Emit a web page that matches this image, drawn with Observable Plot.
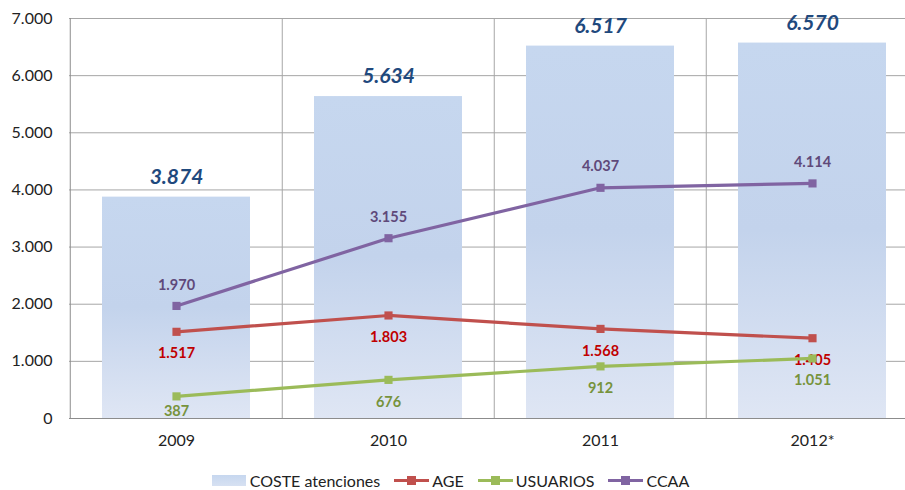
<!DOCTYPE html>
<html><head><meta charset="utf-8">
<script src="https://cdn.jsdelivr.net/npm/d3@7"></script>
<script src="https://cdn.jsdelivr.net/npm/@observablehq/plot@0.6"></script>
<style>
body{margin:0;background:#fff;font-family:Lato,"Open Sans",sans-serif;overflow:hidden}
#legend{display:flex;justify-content:center;align-items:center;height:30px;margin-top:5px;font-size:16px;color:#222;margin-left:-4px}
.item{display:flex;align-items:center;margin:0 7px}
.sw{width:34px;height:11px;margin-right:4px;background:linear-gradient(#c6d7ef,#d7e1f2)}
.ln{position:relative;width:35px;height:12px;margin-right:3px}
.ln i{position:absolute;left:0;right:0;top:4.5px;height:3px}
.ln b{position:absolute;left:13px;top:2px;width:9px;height:9px}
</style></head>
<body><div id="chart"></div><div id="legend"></div>
<script>
const years = ["2009","2010","2011","2012*"];
const coste = [3874,5634,6517,6570];
const age = [1517,1803,1568,1405];
const usuarios = [387,676,912,1051];
const ccaa = [1970,3155,4037,4114];
const yTicks = [0,1000,2000,3000,4000,5000,6000,7000];

const fmt = v => d3.format(",")(v).replace(/,/g,".");
const bars = years.map((y,i)=>({year:y,value:coste[i]}));
const series = [
  {name:"AGE",vals:age,color:"#c0504d",label:"#c00000",dy:22},
  {name:"USUARIOS",vals:usuarios,color:"#9bbb59",label:"#77933c",dy:22},
  {name:"CCAA",vals:ccaa,color:"#8064a2",label:"#5f497a",dy:-21}
];
const pts = series.flatMap(s=>years.map((y,i)=>({series:s.name,year:y,value:s.vals[i],color:s.color,label:s.label,dy:s.dy})));
const bw = (919-69)/4;

const marks = [
  Plot.gridY(yTicks,{stroke:"#a6a6a6",strokeOpacity:1}),
  Plot.ruleX(years.slice(1),{dx:-bw/2,stroke:"#a6a6a6",y1:0,y2:7000}),
  Plot.barY(bars,{x:"year",y:"value",fill:"url(#barGrad)",insetLeft:32,insetRight:32}),
  Plot.ruleX([years[0]],{dx:-bw/2,stroke:"#8c8c8c",y1:0,y2:7000}),
  Plot.ruleY([0],{stroke:"#8c8c8c"}),
  Plot.text(bars,{x:"year",y:"value",text:d=>fmt(d.value),dy:-20,fill:"#1f497d",fontSize:21,fontWeight:"bold",fontStyle:"italic"}),
];
for (const s of series){
  const d = pts.filter(p=>p.series===s.name);
  marks.push(Plot.line(d,{x:"year",y:"value",stroke:s.color,strokeWidth:3.2}));
  marks.push(Plot.dot(d,{x:"year",y:"value",symbol:"square",r:4.6,fill:s.color,stroke:"none"}));
  const dn = s.name==="USUARIOS" ? d.filter(p=>p.year!=="2009") : d;
  marks.push(Plot.text(dn,{x:"year",y:"value",text:p=>fmt(p.value),dy:s.dy,fill:s.label,fontSize:14.5,fontWeight:"bold"}));
  if (s.name==="USUARIOS") marks.push(Plot.text(d.filter(p=>p.year==="2009"),{x:"year",y:"value",text:p=>fmt(p.value),dy:15,fill:s.label,fontSize:14.5,fontWeight:"bold"}));
}
marks.push(Plot.axisY(yTicks,{tickSize:0,tickPadding:17,tickFormat:fmt,fontSize:16,fill:"#222"}));
marks.push(Plot.axisX({tickSize:0,tickPadding:16,fontSize:16,fill:"#222"}));

const plot = Plot.plot({
  width:905,height:460,marginTop:18,marginBottom:42,marginLeft:69,marginRight:0,
  style:{fontFamily:"Lato, 'Open Sans', sans-serif",background:"#fff"},
  x:{type:"band",domain:years,range:[69,919],padding:0,label:null},
  y:{domain:[0,7000],label:null},
  marks
});
const svg = d3.select(plot);
const defs = svg.insert("defs",":first-child");
const g = defs.append("linearGradient").attr("id","barGrad").attr("x1",0).attr("y1",0).attr("x2",0).attr("y2",1);
g.append("stop").attr("offset","0%").attr("stop-color","#c6d7ef");
g.append("stop").attr("offset","50%").attr("stop-color","#c3d3ec");
g.append("stop").attr("offset","100%").attr("stop-color","#dfe6f4");
document.getElementById("chart").appendChild(plot);

const leg = document.getElementById("legend");
leg.innerHTML = `<div class="item"><div class="sw"></div>COSTE atenciones</div>` +
  series.map(s=>`<div class="item"><div class="ln"><i style="background:${s.color}"></i><b style="background:${s.color}"></b></div>${s.name}</div>`).join("");
</script></body></html>
